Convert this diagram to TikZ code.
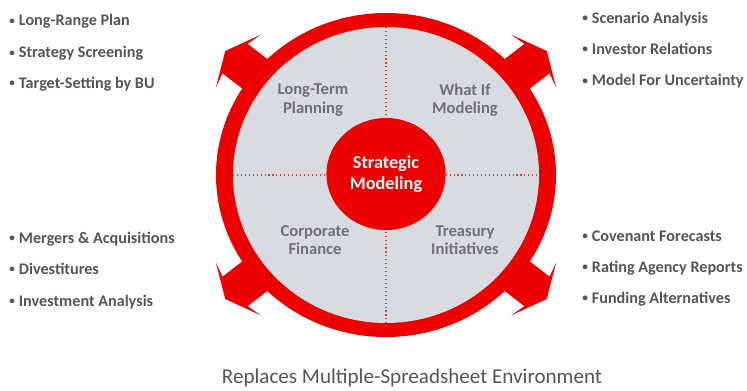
\documentclass[tikz,border=0pt]{standalone}
\usepackage{fontspec}
\setmainfont{Carlito}
\usepackage{tikz}
\usetikzlibrary{positioning,shapes.geometric}
\definecolor{ringred}{RGB}{236,0,0}
\definecolor{diskgrey}{RGB}{216,220,225}
\definecolor{itemgrey}{RGB}{85,85,85}
\definecolor{labelgrey}{RGB}{112,112,112}
\definecolor{dotred}{RGB}{200,70,70}
\newcommand{\dotmark}{\raisebox{0.2ex}{\fontsize{8}{8}\selectfont •}\hspace{0.25em}}
\tikzset{
	item/.style={anchor=base west, text=itemgrey, inner sep=0pt,
		font=\bfseries\fontsize{11.5}{13}\selectfont},
	quad/.style={align=center, text=labelgrey, inner sep=0pt,
		font=\bfseries\fontsize{11.8}{13}\selectfont},
	divider/.style={dotred, dotted, line width=0.8pt},
}

\begin{document}
\begin{tikzpicture}[x=0.025cm,y=0.025cm]
	\useasboundingbox (0,0) rectangle (747,390);
	% four arrows out of the ring
	\foreach \a in {39,141,219,321}
		\fill[ringred, shift={(386,215)}, xscale=1.05, rotate=\a]
		(0,-19) -- (185,-19) -- (181,-34) -- (197,0) -- (181,34) -- (185,19) -- (0,19) -- cycle;
	\fill[ringred] (386,215) ellipse [x radius=170, y radius=162];
	\fill[diskgrey] (386,215) ellipse [x radius=153, y radius=148];
	\coordinate (top) at (386,363);
	\coordinate (bottom) at (386,67);
	\coordinate (left) at (233,215);
	\coordinate (right) at (539,215);
	\draw[divider] (left) -- (right);
	\draw[divider] (top) -- (bottom);
	\node[ellipse, fill=ringred, inner sep=0pt, minimum width=2.98cm, minimum height=2.8cm,
		align=center, text=white, font=\bfseries\fontsize{13}{14.5}\selectfont]
		(hub) at (386,216) {Strategic\\Modeling};
	% quadrants
	\node[quad] (ltp) at (313,290) {Long-Term\\Planning};
	\node[quad] (wim) at (465,290) {What If\\Modeling};
	\node[quad] (cf) at (315,150) {Corporate\\Finance};
	\node[quad] (ti) at (465,150) {Treasury\\Initiatives};
	% lists
	\node[item] (tl1) at (9,364.3) {\dotmark Long-Range Plan};
	\node[item] (tl2) at (9,332.3) {\dotmark Strategy Screening};
	\node[item] (tl3) at (9,301.7) {\dotmark Target-Setting by BU};
	\node[item] (tr1) at (582,366.7) {\dotmark Scenario Analysis};
	\node[item] (tr2) at (582,335.7) {\dotmark Investor Relations};
	\node[item] (tr3) at (582,304.3) {\dotmark Model For Uncertainty};
	\node[item] (bl1) at (9,147) {\dotmark Mergers \& Acquisitions};
	\node[item] (bl2) at (9,116) {\dotmark Divestitures};
	\node[item] (bl3) at (9,84) {\dotmark Investment Analysis};
	\node[item] (br1) at (582,149) {\dotmark Covenant Forecasts};
	\node[item] (br2) at (582,118) {\dotmark Rating Agency Reports};
	\node[item] (br3) at (582,87) {\dotmark Funding Alternatives};
	\node[text=itemgrey, font=\fontsize{15}{17}\selectfont] (caption) at (412,12)
		{Replaces Multiple-Spreadsheet Environment};
\end{tikzpicture}
\end{document}
